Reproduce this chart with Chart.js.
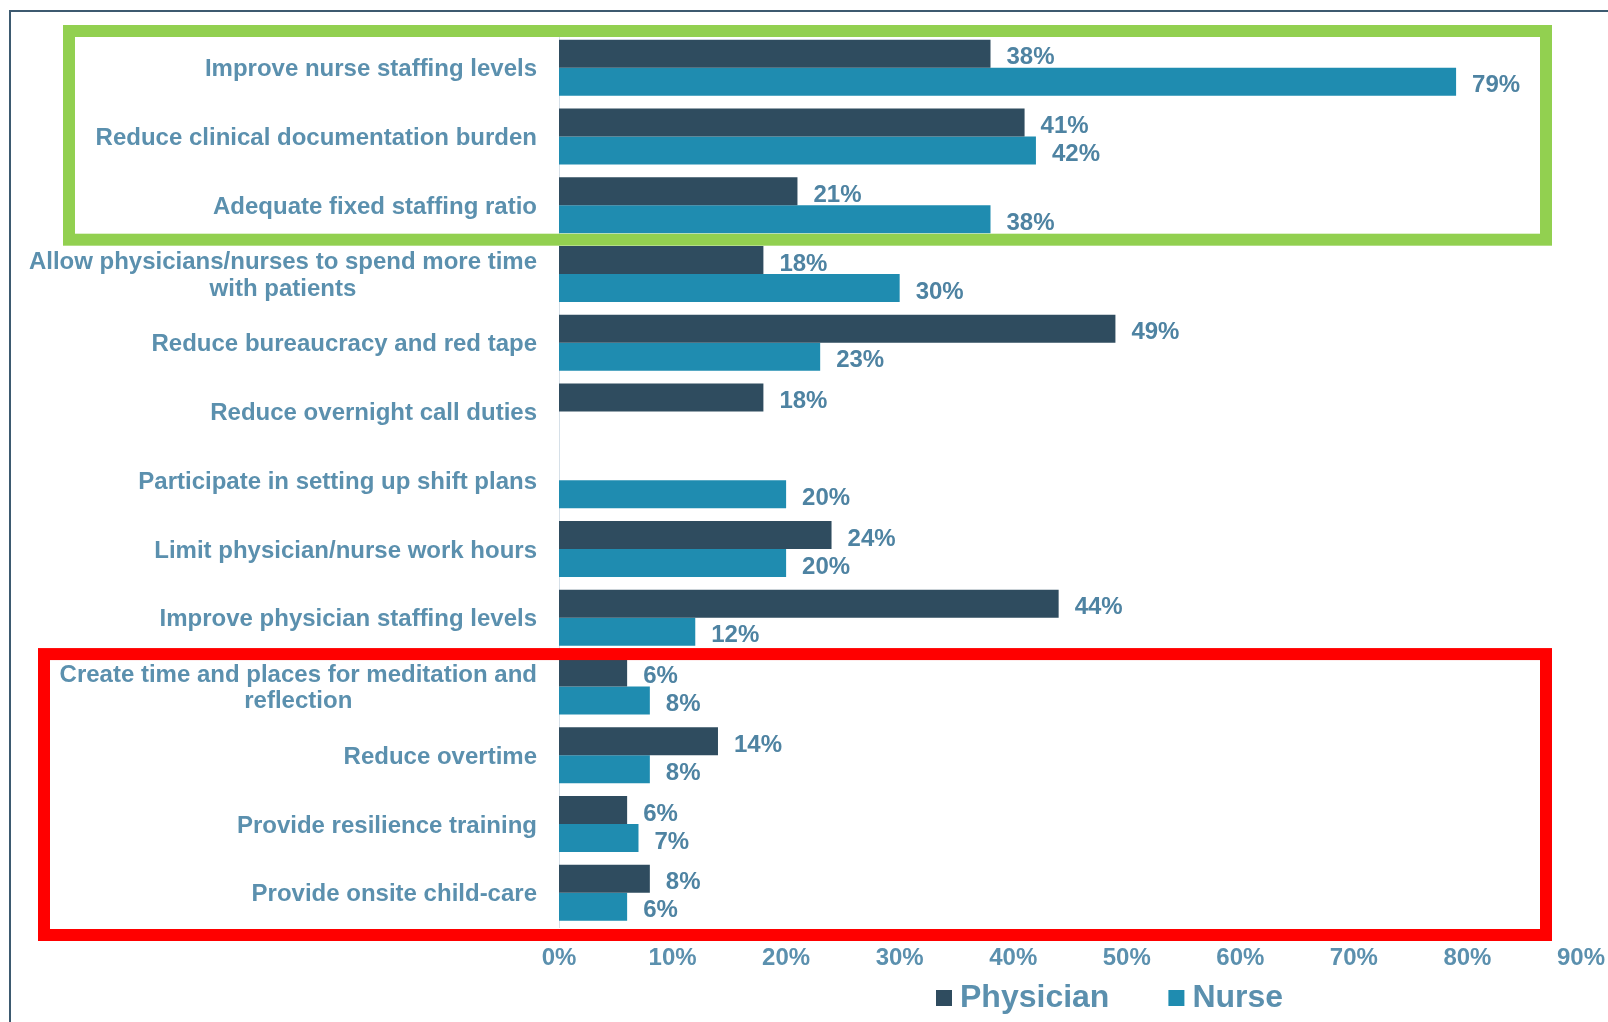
<!DOCTYPE html>
<html>
<head>
<meta charset="utf-8">
<title>Burnout measures</title>
<script src="https://cdn.jsdelivr.net/npm/chart.js@4"></script>
<style>
  html, body { margin: 0; padding: 0; background: #ffffff; }
  #chart { display: block; }
</style>
</head>
<body>
<canvas id="chart" width="1608" height="1022"></canvas>
<script>
// Measures, top to bottom. Two-line entries are given as arrays.
const categories = [
  'Improve nurse staffing levels',
  'Reduce clinical documentation burden',
  'Adequate fixed staffing ratio',
  ['Allow physicians/nurses to spend more time', 'with patients'],
  'Reduce bureaucracy and red tape',
  'Reduce overnight call duties',
  'Participate in setting up shift plans',
  'Limit physician/nurse work hours',
  'Improve physician staffing levels',
  ['Create time and places for meditation and', 'reflection'],
  'Reduce overtime',
  'Provide resilience training',
  'Provide onsite child-care'
];

// Share of respondents (%); null = not asked of that group
const physicianValues = [38, 41, 21, 18, 49, 18, null, 24, 44, 6, 14, 6, 8];
const nurseValues = [79, 42, 38, 30, 23, null, 20, 20, 12, 8, 8, 7, 6];

const xTickValues = [0, 10, 20, 30, 40, 50, 60, 70, 80, 90];

// Highlight frames, given as index ranges of the categories they enclose
const greenGroup = [0, 2];
const redGroup = [9, 12];

const FONT = '"Liberation Sans", Arial, sans-serif';
const TEXT = '#5b90ae';
const VALUE_TEXT = '#4e83a2';
const PHYSICIAN = '#2f4c5f';
const NURSE = '#1f8cb0';

Chart.defaults.font.family = FONT;

// white background + the thin frame on the top and left edges
const framePlugin = {
  id: 'frame',
  beforeDraw(chart) {
    const ctx = chart.ctx;
    ctx.save();
    ctx.fillStyle = '#ffffff';
    ctx.fillRect(0, 0, chart.width, chart.height);
    ctx.strokeStyle = '#3d5a70';
    ctx.lineWidth = 2;
    ctx.beginPath();
    ctx.moveTo(10, chart.height);
    ctx.lineTo(10, 11);
    ctx.lineTo(chart.width, 11);
    ctx.stroke();
    ctx.restore();
  }
};

// category names: block right-aligned to the axis, lines centred on each other
const categoryLabels = {
  id: 'categoryLabels',
  afterDraw(chart) {
    const ctx = chart.ctx;
    const yScale = chart.scales.y;
    const right = chart.chartArea.left - 22;
    const lineHeight = 26.7;
    ctx.save();
    ctx.font = 'bold 24px ' + FONT;
    ctx.fillStyle = TEXT;
    ctx.textBaseline = 'middle';
    ctx.textAlign = 'center';
    categories.forEach((cat, i) => {
      const lines = Array.isArray(cat) ? cat : [cat];
      const widths = lines.map(l => ctx.measureText(l).width);
      const blockW = Math.max(...widths);
      const cx = right - blockW / 2;
      const cy = yScale.getPixelForValue(i);
      const top = cy - (lines.length - 1) * lineHeight / 2;
      lines.forEach((l, j) => ctx.fillText(l, cx, top + j * lineHeight + 2));
    });
    ctx.restore();
  }
};

// "38%" style labels just past the end of each bar
const valueLabels = {
  id: 'valueLabels',
  afterDatasetsDraw(chart) {
    const ctx = chart.ctx;
    ctx.save();
    ctx.font = 'bold 24px ' + FONT;
    ctx.fillStyle = VALUE_TEXT;
    ctx.textAlign = 'left';
    ctx.textBaseline = 'middle';
    chart.data.datasets.forEach((ds, di) => {
      const meta = chart.getDatasetMeta(di);
      meta.data.forEach((bar, i) => {
        const v = ds.data[i];
        if (v === null || v === undefined) return;
        ctx.fillText(v + '%', bar.x + 16, bar.y + 4);
      });
    });
    ctx.restore();
  }
};

// green and red frames around groups of categories
const groupFrames = {
  id: 'groupFrames',
  afterDraw(chart) {
    const ctx = chart.ctx;
    const yScale = chart.scales.y;
    const half = (yScale.getPixelForValue(1) - yScale.getPixelForValue(0)) / 2;
    const frame = (range, color, left, padTop, padBottom) => {
      const top = yScale.getPixelForValue(range[0]) - half - padTop;
      const bottom = yScale.getPixelForValue(range[1]) + half + padBottom;
      ctx.strokeStyle = color;
      ctx.lineWidth = 12;
      ctx.strokeRect(left, top, 1546 - left, bottom - top);
    };
    ctx.save();
    frame(greenGroup, '#92d050', 69, 2.5, 0);
    frame(redGroup, '#ff0000', 44, -2, 8);
    ctx.restore();
  }
};

// legend under the axis
const bottomLegend = {
  id: 'bottomLegend',
  afterDraw(chart) {
    const ctx = chart.ctx;
    let x = 936;
    const baseline = 1007;
    ctx.save();
    ctx.font = 'bold 32px ' + FONT;
    ctx.textBaseline = 'alphabetic';
    ctx.textAlign = 'left';
    chart.data.datasets.forEach(ds => {
      ctx.fillStyle = ds.backgroundColor;
      ctx.fillRect(x, baseline - 17, 16, 16);
      ctx.fillStyle = TEXT;
      ctx.fillText(ds.label, x + 24, baseline);
      x += 24 + ctx.measureText(ds.label).width + 59;
    });
    ctx.restore();
  }
};

new Chart(document.getElementById('chart').getContext('2d'), {
  type: 'bar',
  data: {
    labels: categories,
    datasets: [
      {
        label: 'Physician',
        data: physicianValues,
        backgroundColor: PHYSICIAN,
        categoryPercentage: 0.815,
        barPercentage: 1.0
      },
      {
        label: 'Nurse',
        data: nurseValues,
        backgroundColor: NURSE,
        categoryPercentage: 0.815,
        barPercentage: 1.0
      }
    ]
  },
  options: {
    indexAxis: 'y',
    responsive: false,
    animation: false,
    devicePixelRatio: 1,
    layout: {
      padding: { left: 559, right: 27, top: 33.5, bottom: 0 }
    },
    plugins: {
      legend: { display: false },
      tooltip: { enabled: false }
    },
    scales: {
      y: {
        ticks: { display: false },
        grid: { display: false },
        border: { display: true, color: '#d6e0e8', width: 1 },
        afterFit(scale) { scale.width = 0; }
      },
      x: {
        min: 0,
        max: 90,
        afterBuildTicks(scale) {
          scale.ticks = xTickValues.map(v => ({ value: v }));
        },
        ticks: {
          callback: v => v + '%',
          color: TEXT,
          font: { size: 24, weight: 'bold' },
          padding: 9,
          maxRotation: 0,
          autoSkip: false
        },
        grid: { display: false },
        border: { display: false },
        afterFit(scale) {
          scale.height = 95;
          // let the "90%" label run into the right margin
          scale.paddingLeft = 0;
          scale.paddingRight = 0;
        }
      }
    }
  },
  plugins: [framePlugin, categoryLabels, valueLabels, groupFrames, bottomLegend]
});
</script>
</body>
</html>
